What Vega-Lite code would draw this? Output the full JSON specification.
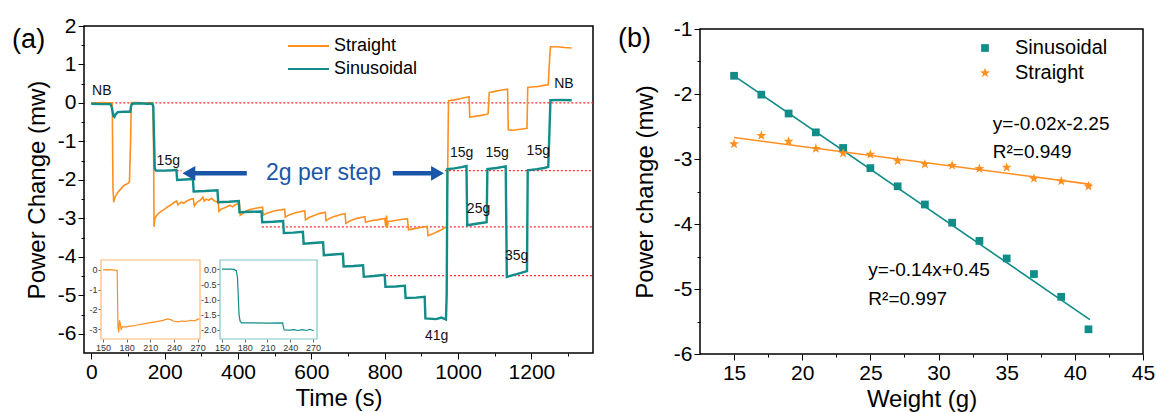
{
 "$schema": "https://vega.github.io/schema/vega-lite/v6.json",
 "width": 1156, "height": 412, "padding": 0,
 "background": "white",
 "config": {
  "view": {"stroke": null},
  "locale": {"number": {"decimal": ".", "thousands": ",", "grouping": [3], "currency": ["$", ""], "minus": "-"}},
  "axis": {"grid": false, "labelFont": "Liberation Sans", "titleFont": "Liberation Sans", "domainColor": "#000", "tickColor": "#000", "labelColor": "#000", "titleColor": "#000", "titleFontWeight": "normal", "labelFlush": false, "labelOverlap": false, "domain": false}
 },
 "datasets": {
  "straight": [
   {"t":0,"v":0},{"t":30,"v":0.01},{"t":57,"v":0},{"t":59,"v":-2.2},{"t":61,"v":-2.58},{"t":63,"v":-2.5},{"t":66,"v":-2.42},{"t":72,"v":-2.33},{"t":80,"v":-2.24},{"t":90,"v":-2.14},{"t":100,"v":-2.09},{"t":104,"v":-2.05},{"t":107,"v":-1.0},{"t":109,"v":0.01},{"t":125,"v":0.01},{"t":145,"v":0},{"t":160,"v":0.01},{"t":168,"v":0},{"t":170,"v":-1.5},{"t":171,"v":-3.22},{"t":173,"v":-3.02},{"t":176,"v":-2.95},{"t":180,"v":-2.9},{"t":185,"v":-2.86},{"t":190,"v":-2.82},{"t":197,"v":-2.78},{"t":205,"v":-2.72},{"t":212,"v":-2.68},{"t":220,"v":-2.63},{"t":228,"v":-2.57},{"t":233,"v":-2.55},{"t":236,"v":-2.65},{"t":240,"v":-2.62},{"t":245,"v":-2.58},{"t":252,"v":-2.61},{"t":258,"v":-2.56},{"t":265,"v":-2.53},{"t":272,"v":-2.5},{"t":278,"v":-2.49},{"t":281,"v":-2.68},{"t":286,"v":-2.6},{"t":292,"v":-2.56},{"t":298,"v":-2.52},{"t":304,"v":-2.45},{"t":308,"v":-2.55},{"t":313,"v":-2.5},{"t":320,"v":-2.53},{"t":328,"v":-2.48},{"t":336,"v":-2.55},{"t":346,"v":-2.58},{"t":348,"v":-2.82},{"t":354,"v":-2.76},{"t":362,"v":-2.73},{"t":370,"v":-2.7},{"t":378,"v":-2.66},{"t":385,"v":-2.7},{"t":393,"v":-2.64},{"t":404,"v":-2.62},{"t":406,"v":-2.92},{"t":414,"v":-2.87},{"t":422,"v":-2.81},{"t":432,"v":-2.77},{"t":442,"v":-2.75},{"t":452,"v":-2.73},{"t":467,"v":-2.71},{"t":469,"v":-2.92},{"t":478,"v":-2.87},{"t":488,"v":-2.84},{"t":498,"v":-2.81},{"t":508,"v":-2.79},{"t":518,"v":-2.78},{"t":527,"v":-2.76},{"t":529,"v":-2.97},{"t":539,"v":-2.91},{"t":549,"v":-2.88},{"t":559,"v":-2.85},{"t":569,"v":-2.83},{"t":582,"v":-2.8},{"t":584,"v":-3.04},{"t":594,"v":-2.98},{"t":604,"v":-2.94},{"t":614,"v":-2.9},{"t":624,"v":-2.87},{"t":638,"v":-2.84},{"t":640,"v":-3.06},{"t":650,"v":-3.0},{"t":660,"v":-2.96},{"t":670,"v":-2.93},{"t":680,"v":-2.9},{"t":692,"v":-2.88},{"t":694,"v":-3.13},{"t":705,"v":-3.07},{"t":715,"v":-3.03},{"t":725,"v":-3.0},{"t":735,"v":-2.98},{"t":746,"v":-2.96},{"t":748,"v":-3.1},{"t":760,"v":-3.07},{"t":770,"v":-3.05},{"t":780,"v":-3.04},{"t":790,"v":-3.02},{"t":800,"v":-3.0},{"t":803,"v":-3.22},{"t":805,"v":-2.93},{"t":807,"v":-3.25},{"t":809,"v":-3.08},{"t":820,"v":-3.07},{"t":832,"v":-3.05},{"t":845,"v":-3.03},{"t":862,"v":-3.01},{"t":865,"v":-3.3},{"t":875,"v":-3.28},{"t":885,"v":-3.26},{"t":900,"v":-3.23},{"t":916,"v":-3.21},{"t":918,"v":-3.45},{"t":930,"v":-3.41},{"t":943,"v":-3.35},{"t":956,"v":-3.29},{"t":969,"v":-3.22},{"t":972,"v":-1.5},{"t":974,"v":0.06},{"t":990,"v":0.08},{"t":1005,"v":0.11},{"t":1020,"v":0.14},{"t":1030,"v":0.16},{"t":1032,"v":-0.37},{"t":1045,"v":-0.35},{"t":1060,"v":-0.33},{"t":1075,"v":-0.3},{"t":1082,"v":-0.28},{"t":1085,"v":0.27},{"t":1100,"v":0.3},{"t":1115,"v":0.33},{"t":1135,"v":0.36},{"t":1137,"v":-0.7},{"t":1150,"v":-0.71},{"t":1165,"v":-0.69},{"t":1180,"v":-0.67},{"t":1188,"v":-0.66},{"t":1190,"v":0.4},{"t":1205,"v":0.42},{"t":1215,"v":0.42},{"t":1230,"v":0.45},{"t":1246,"v":0.47},{"t":1250,"v":1.2},{"t":1252,"v":1.46},{"t":1270,"v":1.46},{"t":1290,"v":1.44},{"t":1310,"v":1.43}
  ],
  "sinus": [
   {"t":0,"v":-0.02},{"t":30,"v":-0.03},{"t":52,"v":-0.03},{"t":56,"v":-0.12},{"t":60,"v":-0.33},{"t":63,"v":-0.36},{"t":66,"v":-0.3},{"t":72,"v":-0.24},{"t":90,"v":-0.23},{"t":106,"v":-0.23},{"t":108,"v":-0.1},{"t":111,"v":-0.02},{"t":130,"v":-0.01},{"t":150,"v":-0.02},{"t":166,"v":-0.02},{"t":169,"v":-0.1},{"t":171,"v":-0.9},{"t":173,"v":-1.7},{"t":176,"v":-1.76},{"t":200,"v":-1.76},{"t":220,"v":-1.75},{"t":232,"v":-1.74},{"t":234,"v":-2.0},{"t":255,"v":-1.99},{"t":277,"v":-1.98},{"t":279,"v":-2.3},{"t":310,"v":-2.29},{"t":344,"v":-2.27},{"t":346,"v":-2.58},{"t":375,"v":-2.57},{"t":402,"v":-2.55},{"t":404,"v":-2.84},{"t":435,"v":-2.83},{"t":464,"v":-2.82},{"t":466,"v":-3.1},{"t":495,"v":-3.09},{"t":523,"v":-3.07},{"t":525,"v":-3.38},{"t":550,"v":-3.37},{"t":577,"v":-3.35},{"t":579,"v":-3.66},{"t":605,"v":-3.64},{"t":632,"v":-3.62},{"t":634,"v":-3.96},{"t":660,"v":-3.94},{"t":686,"v":-3.92},{"t":688,"v":-4.25},{"t":715,"v":-4.24},{"t":741,"v":-4.22},{"t":743,"v":-4.52},{"t":770,"v":-4.5},{"t":800,"v":-4.47},{"t":802,"v":-4.78},{"t":830,"v":-4.77},{"t":855,"v":-4.75},{"t":857,"v":-5.07},{"t":885,"v":-5.06},{"t":909,"v":-5.04},{"t":911,"v":-5.6},{"t":940,"v":-5.62},{"t":955,"v":-5.58},{"t":967,"v":-5.63},{"t":969,"v":-5.0},{"t":971,"v":-1.72},{"t":990,"v":-1.7},{"t":1010,"v":-1.67},{"t":1023,"v":-1.64},{"t":1025,"v":-3.18},{"t":1050,"v":-3.14},{"t":1078,"v":-3.1},{"t":1080,"v":-1.72},{"t":1105,"v":-1.69},{"t":1130,"v":-1.65},{"t":1133,"v":-4.52},{"t":1160,"v":-4.45},{"t":1188,"v":-4.37},{"t":1190,"v":-1.75},{"t":1215,"v":-1.72},{"t":1235,"v":-1.69},{"t":1246,"v":-1.66},{"t":1249,"v":-0.8},{"t":1252,"v":0.07},{"t":1280,"v":0.08},{"t":1310,"v":0.07}
  ],
  "insetS": [
   {"x":150,"y":0},{"x":158,"y":0.01},{"x":165,"y":-0.01},{"x":168,"y":-0.03},{"x":169,"y":-2.9},{"x":170,"y":-3.15},{"x":171,"y":-2.55},{"x":172,"y":-2.75},{"x":173,"y":-3.0},{"x":175,"y":-2.86},{"x":178,"y":-2.9},{"x":182,"y":-2.86},{"x":188,"y":-2.84},{"x":195,"y":-2.78},{"x":202,"y":-2.73},{"x":210,"y":-2.67},{"x":218,"y":-2.62},{"x":226,"y":-2.56},{"x":232,"y":-2.48},{"x":236,"y":-2.52},{"x":240,"y":-2.6},{"x":245,"y":-2.63},{"x":250,"y":-2.59},{"x":255,"y":-2.61},{"x":262,"y":-2.55},{"x":266,"y":-2.58},{"x":272,"y":-2.47}
  ],
  "insetT": [
   {"x":150,"y":0},{"x":160,"y":0},{"x":166,"y":-0.01},{"x":169,"y":-0.06},{"x":170.5,"y":-0.3},{"x":171.5,"y":-0.9},{"x":172.5,"y":-1.5},{"x":174,"y":-1.72},{"x":176,"y":-1.77},{"x":190,"y":-1.77},{"x":210,"y":-1.78},{"x":230,"y":-1.77},{"x":231,"y":-1.9},{"x":232,"y":-2.0},{"x":240,"y":-2.01},{"x":245,"y":-1.99},{"x":250,"y":-2.02},{"x":256,"y":-1.99},{"x":262,"y":-2.02},{"x":266,"y":-1.98},{"x":271,"y":-2.03}
  ],
  "refs": [
   {"x1":0,"x2":1368,"y":0},{"x1":178,"x2":246,"y":-1.76},{"x1":964,"x2":1368,"y":-1.76},{"x1":465,"x2":1368,"y":-3.22},{"x1":760,"x2":1368,"y":-4.49}
  ],
  "arrows": [{"x1":266,"x2":424,"y":-1.83},{"x1":822,"x2":944,"y":-1.83}],
  "labelsA": [
   {"t":2,"v":0.2,"txt":"NB"},{"t":178,"v":-1.61,"txt":"15g"},{"t":978,"v":-1.4,"txt":"15g"},{"t":1075,"v":-1.4,"txt":"15g"},{"t":1187,"v":-1.35,"txt":"15g"},{"t":1024,"v":-2.85,"txt":"25g"},{"t":1128,"v":-4.08,"txt":"35g"},{"t":910,"v":-6.15,"txt":"41g"},{"t":1262,"v":0.38,"txt":"NB"}
  ],
  "ptsSin": [
   {"w":15,"p":-1.72,"s":"Sinusoidal"},{"w":17,"p":-2.01,"s":"Sinusoidal"},{"w":19,"p":-2.3,"s":"Sinusoidal"},{"w":21,"p":-2.59,"s":"Sinusoidal"},{"w":23,"p":-2.83,"s":"Sinusoidal"},{"w":25,"p":-3.14,"s":"Sinusoidal"},{"w":27,"p":-3.42,"s":"Sinusoidal"},{"w":29,"p":-3.7,"s":"Sinusoidal"},{"w":31,"p":-3.98,"s":"Sinusoidal"},{"w":33,"p":-4.26,"s":"Sinusoidal"},{"w":35,"p":-4.53,"s":"Sinusoidal"},{"w":37,"p":-4.77,"s":"Sinusoidal"},{"w":39,"p":-5.12,"s":"Sinusoidal"},{"w":41,"p":-5.62,"s":"Sinusoidal"}
  ],
  "ptsStr": [
   {"w":15,"p":-2.77,"s":"Straight"},{"w":17,"p":-2.64,"s":"Straight"},{"w":19,"p":-2.73,"s":"Straight"},{"w":21,"p":-2.84,"s":"Straight"},{"w":23,"p":-2.91,"s":"Straight"},{"w":25,"p":-2.93,"s":"Straight"},{"w":27,"p":-3.03,"s":"Straight"},{"w":29,"p":-3.08,"s":"Straight"},{"w":31,"p":-3.1,"s":"Straight"},{"w":33,"p":-3.15,"s":"Straight"},{"w":35,"p":-3.13,"s":"Straight"},{"w":37,"p":-3.3,"s":"Straight"},{"w":39,"p":-3.34,"s":"Straight"},{"w":41,"p":-3.42,"s":"Straight"}
  ],
  "fitSin": [{"w":15,"p":-1.72},{"w":41.1,"p":-5.47}],
  "fitStr": [{"w":15,"p":-2.67},{"w":41.2,"p":-3.39}],
  "labelsB": [
   {"w":33.98,"p":-2.55,"txt":"y=-0.02x-2.25"},{"w":33.98,"p":-2.99,"txt":"R²=0.949"},{"w":24.85,"p":-4.8,"txt":"y=-0.14x+0.45"},{"w":24.85,"p":-5.24,"txt":"R²=0.997"}
  ]
 },
 "layer": [
  {
   "data": {"values": [{"k": 1}]},
   "mark": {"type": "rect", "fill": "transparent", "stroke": "#000", "strokeWidth": 1.5},
   "encoding": {
    "x": {"datum": -20, "type": "quantitative", "scale": {"domain": [-20, 1368], "range": [84, 593], "nice": false, "zero": false},
          "axis": {"orient": "bottom", "offset": -59, "values": [0,200,400,600,800,1000,1200], "format": "d", "title": "Time (s)", "titleFontSize": 24, "labelFontSize": 21, "tickSize": 6, "labelPadding": 2, "titlePadding": 4}},
    "x2": {"datum": 1368},
    "y": {"datum": -6.5, "type": "quantitative", "scale": {"domain": [-6.5, 2], "range": [353, 26], "nice": false, "zero": false},
          "axis": {"orient": "left", "offset": -84, "values": [-6,-5,-4,-3,-2,-1,0,1,2], "title": "Power Change (mw)", "titleFontSize": 24, "labelFontSize": 21, "tickSize": 6, "labelPadding": 2, "titlePadding": 8}},
    "y2": {"datum": 2}
   }
  },
  {
   "data": {"name": "refs"},
   "mark": {"type": "rule", "color": "#ff2a2a", "strokeDash": [2, 2], "strokeWidth": 1.2},
   "encoding": {
    "x": {"field": "x1", "type": "quantitative", "scale": {"domain": [-20, 1368], "range": [84, 593], "nice": false, "zero": false},
          "axis": {"orient": "bottom", "offset": -59, "values": [100,300,500,700,900,1100,1300], "labels": false, "title": null, "tickSize": 3}},
    "x2": {"field": "x2"},
    "y": {"field": "y", "type": "quantitative", "scale": {"domain": [-6.5, 2], "range": [353, 26], "nice": false, "zero": false},
          "axis": {"orient": "left", "offset": -84, "values": [-5.5,-4.5,-3.5,-2.5,-1.5,-0.5,0.5,1.5], "labels": false, "title": null, "tickSize": 3}}
   }
  },
  {
   "data": {"name": "straight"},
   "mark": {"type": "line", "strokeWidth": 1.6},
   "encoding": {
    "x": {"field": "t", "type": "quantitative", "scale": {"domain": [-20, 1368], "range": [84, 593], "nice": false, "zero": false}, "axis": null},
    "y": {"field": "v", "type": "quantitative", "scale": {"domain": [-6.5, 2], "range": [353, 26], "nice": false, "zero": false}, "axis": null},
    "color": {"datum": "Straight", "type": "nominal", "scale": {"domain": ["Straight"], "range": ["#ff8f1f"]},
              "legend": {"orient": "none", "legendX": 287, "legendY": 24.5, "title": null, "symbolType": "stroke", "symbolSize": 1681, "symbolStrokeWidth": 2, "labelFontSize": 18, "labelFont": "Liberation Sans", "labelColor": "#000", "labelOffset": 4, "padding": 0}}
   }
  },
  {
   "data": {"name": "sinus"},
   "mark": {"type": "line", "strokeWidth": 2.4},
   "encoding": {
    "x": {"field": "t", "type": "quantitative", "scale": {"domain": [-20, 1368], "range": [84, 593], "nice": false, "zero": false}, "axis": null},
    "y": {"field": "v", "type": "quantitative", "scale": {"domain": [-6.5, 2], "range": [353, 26], "nice": false, "zero": false}, "axis": null},
    "color": {"datum": "Sinusoidal", "type": "nominal", "scale": {"domain": ["Sinusoidal"], "range": ["#118c89"]},
              "legend": {"orient": "none", "legendX": 287, "legendY": 47.5, "title": null, "symbolType": "stroke", "symbolSize": 1681, "symbolStrokeWidth": 2, "labelFontSize": 18, "labelFont": "Liberation Sans", "labelColor": "#000", "labelOffset": 4, "padding": 0}}
   }
  },
  {
   "data": {"name": "arrows"},
   "mark": {"type": "rule", "color": "#1a56a8", "strokeWidth": 4.5},
   "encoding": {
    "x": {"field": "x1", "type": "quantitative", "scale": {"domain": [-20, 1368], "range": [84, 593], "nice": false, "zero": false}, "axis": null},
    "x2": {"field": "x2"},
    "y": {"field": "y", "type": "quantitative", "scale": {"domain": [-6.5, 2], "range": [353, 26], "nice": false, "zero": false}, "axis": null}
   }
  },
  {
   "data": {"values": [{"t": 266, "v": -1.83}]},
   "mark": {"type": "point", "shape": "triangle-left", "filled": true, "opacity": 1, "color": "#1a56a8", "size": 220},
   "encoding": {
    "x": {"field": "t", "type": "quantitative", "scale": {"domain": [-20, 1368], "range": [84, 593], "nice": false, "zero": false}, "axis": null},
    "y": {"field": "v", "type": "quantitative", "scale": {"domain": [-6.5, 2], "range": [353, 26], "nice": false, "zero": false}, "axis": null}
   }
  },
  {
   "data": {"values": [{"t": 944, "v": -1.83}]},
   "mark": {"type": "point", "shape": "triangle-right", "filled": true, "opacity": 1, "color": "#1a56a8", "size": 220},
   "encoding": {
    "x": {"field": "t", "type": "quantitative", "scale": {"domain": [-20, 1368], "range": [84, 593], "nice": false, "zero": false}, "axis": null},
    "y": {"field": "v", "type": "quantitative", "scale": {"domain": [-6.5, 2], "range": [353, 26], "nice": false, "zero": false}, "axis": null}
   }
  },
  {
   "data": {"name": "labelsA"},
   "mark": {"type": "text", "font": "Liberation Sans", "fontSize": 14, "align": "left", "baseline": "alphabetic", "color": "#111"},
   "encoding": {
    "x": {"field": "t", "type": "quantitative", "scale": {"domain": [-20, 1368], "range": [84, 593], "nice": false, "zero": false}, "axis": null},
    "y": {"field": "v", "type": "quantitative", "scale": {"domain": [-6.5, 2], "range": [353, 26], "nice": false, "zero": false}, "axis": null},
    "text": {"field": "txt"}
   }
  },
  {
   "data": {"values": [{"t": 633, "v": -2.0, "txt": "2g per step"}]},
   "mark": {"type": "text", "font": "Liberation Sans", "fontSize": 23, "align": "center", "baseline": "alphabetic", "color": "#1a56a8"},
   "encoding": {
    "x": {"field": "t", "type": "quantitative", "scale": {"domain": [-20, 1368], "range": [84, 593], "nice": false, "zero": false}, "axis": null},
    "y": {"field": "v", "type": "quantitative", "scale": {"domain": [-6.5, 2], "range": [353, 26], "nice": false, "zero": false}, "axis": null},
    "text": {"field": "txt"}
   }
  },
  {
   "data": {"values": [{"t": -216, "v": 1.43, "txt": "(a)"}]},
   "mark": {"type": "text", "font": "Liberation Sans", "fontSize": 27, "align": "left", "baseline": "alphabetic", "color": "#000"},
   "encoding": {
    "x": {"field": "t", "type": "quantitative", "scale": {"domain": [-20, 1368], "range": [84, 593], "nice": false, "zero": false}, "axis": null},
    "y": {"field": "v", "type": "quantitative", "scale": {"domain": [-6.5, 2], "range": [353, 26], "nice": false, "zero": false}, "axis": null},
    "text": {"field": "txt"}
   }
  },
  {
   "data": {"values": [{"k": 1}]},
   "mark": {"type": "rect", "fill": "white", "stroke": "#ffb870", "strokeWidth": 1.2},
   "encoding": {
    "x": {"datum": 147.5, "type": "quantitative", "scale": {"domain": [147.5, 273], "range": [101, 200], "nice": false, "zero": false}, "axis": null},
    "x2": {"datum": 273},
    "y": {"datum": -3.5, "type": "quantitative", "scale": {"domain": [-3.5, 0.5], "range": [339, 260], "nice": false, "zero": false}, "axis": null},
    "y2": {"datum": 0.5}
   }
  },
  {
   "data": {"name": "insetS"},
   "mark": {"type": "line", "color": "#ff8f1f", "strokeWidth": 1.2},
   "encoding": {
    "x": {"field": "x", "type": "quantitative", "scale": {"domain": [147.5, 273], "range": [101, 200], "nice": false, "zero": false},
          "axis": {"orient": "bottom", "offset": -73, "values": [150,180,210,240,270], "title": null, "labelFontSize": 9, "tickSize": 3, "labelPadding": 1, "labelColor": "#333", "tickColor": "#666"}},
    "y": {"field": "y", "type": "quantitative", "scale": {"domain": [-3.5, 0.5], "range": [339, 260], "nice": false, "zero": false},
          "axis": {"orient": "left", "offset": -101, "values": [0,-1,-2,-3], "title": null, "labelFontSize": 9, "tickSize": 3, "labelPadding": 1, "labelColor": "#333", "tickColor": "#666"}}
   }
  },
  {
   "data": {"values": [{"k": 1}]},
   "mark": {"type": "rect", "fill": "white", "stroke": "#7cc8c6", "strokeWidth": 1.2},
   "encoding": {
    "x": {"datum": 147.4, "type": "quantitative", "scale": {"domain": [147.4, 275.3], "range": [220, 317], "nice": false, "zero": false}, "axis": null},
    "x2": {"datum": 275.3},
    "y": {"datum": -2.3, "type": "quantitative", "scale": {"domain": [-2.3, 0.3], "range": [339, 260], "nice": false, "zero": false}, "axis": null},
    "y2": {"datum": 0.3}
   }
  },
  {
   "data": {"name": "insetT"},
   "mark": {"type": "line", "color": "#118c89", "strokeWidth": 1.2},
   "encoding": {
    "x": {"field": "x", "type": "quantitative", "scale": {"domain": [147.4, 275.3], "range": [220, 317], "nice": false, "zero": false},
          "axis": {"orient": "bottom", "offset": -73, "values": [150,180,210,240,270], "title": null, "labelFontSize": 9, "tickSize": 3, "labelPadding": 1, "labelColor": "#333", "tickColor": "#666"}},
    "y": {"field": "y", "type": "quantitative", "scale": {"domain": [-2.3, 0.3], "range": [339, 260], "nice": false, "zero": false},
          "axis": {"orient": "left", "offset": -220, "values": [0,-0.5,-1,-1.5,-2], "format": ".1f", "title": null, "labelFontSize": 9, "tickSize": 3, "labelPadding": 1, "labelColor": "#333", "tickColor": "#666"}}
   }
  },
  {
   "data": {"values": [{"k": 1}]},
   "mark": {"type": "rect", "fill": "transparent", "stroke": "#000", "strokeWidth": 1.5},
   "encoding": {
    "x": {"datum": 12.5, "type": "quantitative", "scale": {"domain": [12.5, 45], "range": [700, 1143], "nice": false, "zero": false},
          "axis": {"orient": "bottom", "offset": -58, "values": [15,20,25,30,35,40,45], "title": "Weight (g)", "titleFontSize": 24, "labelFontSize": 21, "tickSize": 6, "labelPadding": 2, "titlePadding": 4}},
    "x2": {"datum": 45},
    "y": {"datum": -6, "type": "quantitative", "scale": {"domain": [-6, -1], "range": [354, 29], "nice": false, "zero": false},
          "axis": {"orient": "left", "offset": -700, "values": [-6,-5,-4,-3,-2,-1], "title": "Power change (mw)", "titleFontSize": 24, "labelFontSize": 21, "tickSize": 6, "labelPadding": 2, "titlePadding": 16}},
    "y2": {"datum": -1}
   }
  },
  {
   "data": {"name": "fitSin"},
   "mark": {"type": "line", "color": "#118c89", "strokeWidth": 1.6},
   "encoding": {
    "x": {"field": "w", "type": "quantitative", "scale": {"domain": [12.5, 45], "range": [700, 1143], "nice": false, "zero": false},
          "axis": {"orient": "bottom", "offset": -58, "values": [17.5,22.5,27.5,32.5,37.5,42.5], "labels": false, "title": null, "tickSize": 3}},
    "y": {"field": "p", "type": "quantitative", "scale": {"domain": [-6, -1], "range": [354, 29], "nice": false, "zero": false},
          "axis": {"orient": "left", "offset": -700, "values": [-5.5,-4.5,-3.5,-2.5,-1.5], "labels": false, "title": null, "tickSize": 3}}
   }
  },
  {
   "data": {"name": "fitStr"},
   "mark": {"type": "line", "color": "#ff8f1f", "strokeWidth": 1.6},
   "encoding": {
    "x": {"field": "w", "type": "quantitative", "scale": {"domain": [12.5, 45], "range": [700, 1143], "nice": false, "zero": false}, "axis": null},
    "y": {"field": "p", "type": "quantitative", "scale": {"domain": [-6, -1], "range": [354, 29], "nice": false, "zero": false}, "axis": null}
   }
  },
  {
   "data": {"name": "ptsSin"},
   "mark": {"type": "point", "filled": true, "opacity": 1, "size": 60},
   "encoding": {
    "x": {"field": "w", "type": "quantitative", "scale": {"domain": [12.5, 45], "range": [700, 1143], "nice": false, "zero": false}, "axis": null},
    "y": {"field": "p", "type": "quantitative", "scale": {"domain": [-6, -1], "range": [354, 29], "nice": false, "zero": false}, "axis": null},
    "color": {"field": "s", "type": "nominal", "scale": {"domain": ["Sinusoidal"], "range": ["#118c89"]},
              "legend": {"orient": "none", "legendX": 975, "legendY": 38, "title": null, "symbolSize": 60, "labelFontSize": 20, "labelFont": "Liberation Sans", "labelColor": "#000", "labelOffset": 20, "padding": 0}},
    "shape": {"field": "s", "type": "nominal", "scale": {"domain": ["Sinusoidal"], "range": ["square"]},
              "legend": {"orient": "none", "legendX": 975, "legendY": 38, "title": null, "symbolSize": 60, "labelFontSize": 20, "labelFont": "Liberation Sans", "labelColor": "#000", "labelOffset": 20, "padding": 0}}
   }
  },
  {
   "data": {"name": "ptsStr"},
   "mark": {"type": "point", "filled": true, "opacity": 1, "size": 110},
   "encoding": {
    "x": {"field": "w", "type": "quantitative", "scale": {"domain": [12.5, 45], "range": [700, 1143], "nice": false, "zero": false}, "axis": null},
    "y": {"field": "p", "type": "quantitative", "scale": {"domain": [-6, -1], "range": [354, 29], "nice": false, "zero": false}, "axis": null},
    "color": {"field": "s", "type": "nominal", "scale": {"domain": ["Straight"], "range": ["#ff8f1f"]},
              "legend": {"orient": "none", "legendX": 975, "legendY": 63, "title": null, "symbolSize": 110, "labelFontSize": 20, "labelFont": "Liberation Sans", "labelColor": "#000", "labelOffset": 20, "padding": 0}},
    "shape": {"field": "s", "type": "nominal", "scale": {"domain": ["Straight"], "range": ["M0,-1L0.235,-0.324L0.951,-0.309L0.38,0.124L0.588,0.809L0,0.4L-0.588,0.809L-0.38,0.124L-0.951,-0.309L-0.235,-0.324Z"]},
              "legend": {"orient": "none", "legendX": 975, "legendY": 63, "title": null, "symbolSize": 110, "labelFontSize": 20, "labelFont": "Liberation Sans", "labelColor": "#000", "labelOffset": 20, "padding": 0}}
   }
  },
  {
   "data": {"name": "labelsB"},
   "mark": {"type": "text", "font": "Liberation Sans", "fontSize": 19, "align": "left", "baseline": "alphabetic", "color": "#000"},
   "encoding": {
    "x": {"field": "w", "type": "quantitative", "scale": {"domain": [12.5, 45], "range": [700, 1143], "nice": false, "zero": false}, "axis": null},
    "y": {"field": "p", "type": "quantitative", "scale": {"domain": [-6, -1], "range": [354, 29], "nice": false, "zero": false}, "axis": null},
    "text": {"field": "txt"}
   }
  },
  {
   "data": {"values": [{"w": 6.49, "p": -1.27, "txt": "(b)"}]},
   "mark": {"type": "text", "font": "Liberation Sans", "fontSize": 27, "align": "left", "baseline": "alphabetic", "color": "#000"},
   "encoding": {
    "x": {"field": "w", "type": "quantitative", "scale": {"domain": [12.5, 45], "range": [700, 1143], "nice": false, "zero": false}, "axis": null},
    "y": {"field": "p", "type": "quantitative", "scale": {"domain": [-6, -1], "range": [354, 29], "nice": false, "zero": false}, "axis": null},
    "text": {"field": "txt"}
   }
  }
 ],
 "resolve": {
  "scale": {"x": "independent", "y": "independent", "color": "independent", "shape": "independent"},
  "axis": {"x": "independent", "y": "independent"},
  "legend": {"color": "independent", "shape": "independent"}
 }
}
